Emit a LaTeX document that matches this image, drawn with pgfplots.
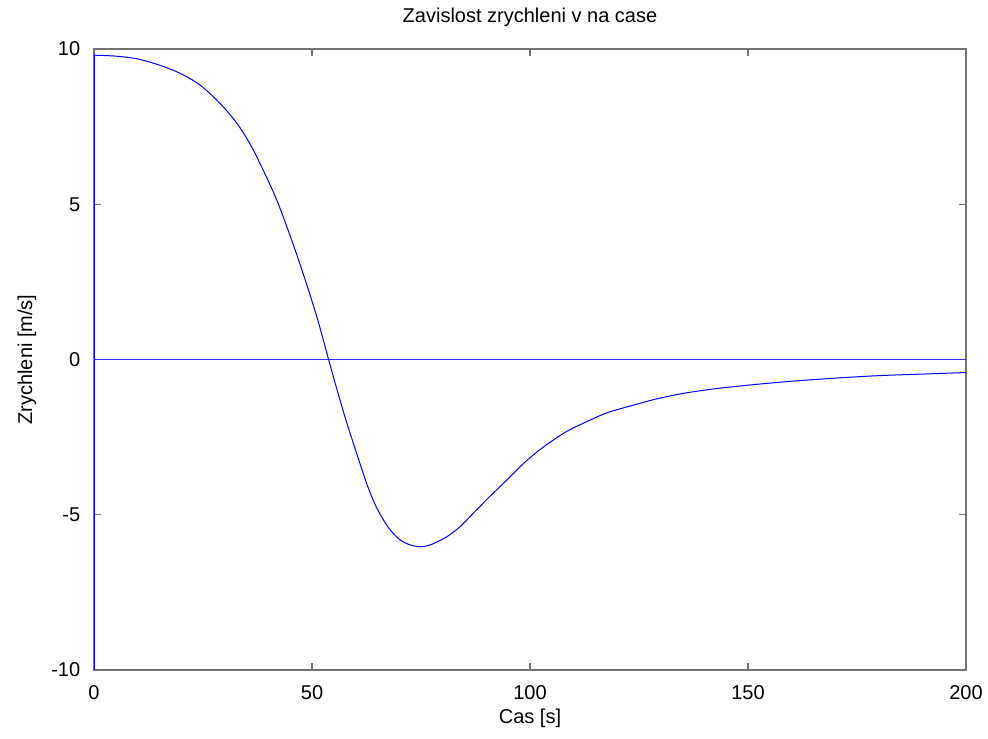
\documentclass[border=0pt]{standalone}
\usepackage{fontspec}
\setmainfont{Liberation Sans}
\usepackage{pgfplots}
\pgfplotsset{compat=1.18}

\begin{document}
\begin{tikzpicture}
\begin{axis}[
  scale only axis,
  width=436pt, height=310.5pt,
  xmin=0, xmax=200, ymin=-10, ymax=10,
  xtick={0,50,100,150,200},
  ytick={-10,-5,0,5,10},
  tick align=inside,
  major tick length=3.5pt,
  axis line style={black!55, line width=0.6pt},
  tick style={black!55, line width=0.6pt},
  font=\fontsize{10}{12}\selectfont,
  /pgf/number format/assume math mode=true,
  xticklabel style={inner sep=0pt, yshift=-7.5pt},
  yticklabel style={inner sep=0pt, xshift=-6.7pt},
  title={Zavislost zrychleni v na case},
  title style={at={(axis description cs:0.5,1.0515)}, anchor=center, yshift=-6pt},
  xlabel={Cas [s]},
  xlabel style={at={(axis description cs:0.5,-0.0773)}, anchor=center},
  ylabel={Zrychleni [m/s]},
  ylabel style={at={(axis description cs:-0.0768,0.5)}, anchor=center},
  clip=false,
]
% skok na zacatku
\addplot[blue, line width=0.5pt] coordinates {(0,-10) (0,9.80)};
% nulova cara
\addplot[blue!80, line width=0.7pt] coordinates {(0,0) (200,0)};
% zrychleni
\addplot[blue, line width=0.5pt, smooth, tension=0.5] coordinates {
  (0,9.80) (5,9.77) (10,9.68) (15,9.48) (19.7,9.22) (24.3,8.84)
  (28.9,8.25) (32.7,7.62) (35.8,6.94) (38.8,6.10) (41.9,5.14)
  (45,3.98) (48,2.75) (51.1,1.38) (53.8,0.0) (56,-1.10) (58,-2.05)
  (60,-2.92) (62.5,-3.98) (64.5,-4.68) (66.4,-5.17) (68,-5.50)
  (70.2,-5.81) (72.5,-5.97) (75,-6.03) (77.5,-5.95) (80.9,-5.71)
  (84,-5.38) (87,-4.95) (90.5,-4.45) (94.7,-3.88) (98.5,-3.35)
  (102.3,-2.90) (108,-2.35) (113.8,-1.95) (118,-1.70) (123.7,-1.47)
  (129,-1.27) (135.2,-1.09) (142,-0.95) (150.5,-0.82) (160,-0.70)
  (170,-0.60) (180,-0.52) (190,-0.47) (200,-0.42)
};
% okraje obrazku
\path (rel axis cs:-0.1078,-0.1111) rectangle (rel axis cs:1.0252,1.0789);
\end{axis}
\end{tikzpicture}
\end{document}
